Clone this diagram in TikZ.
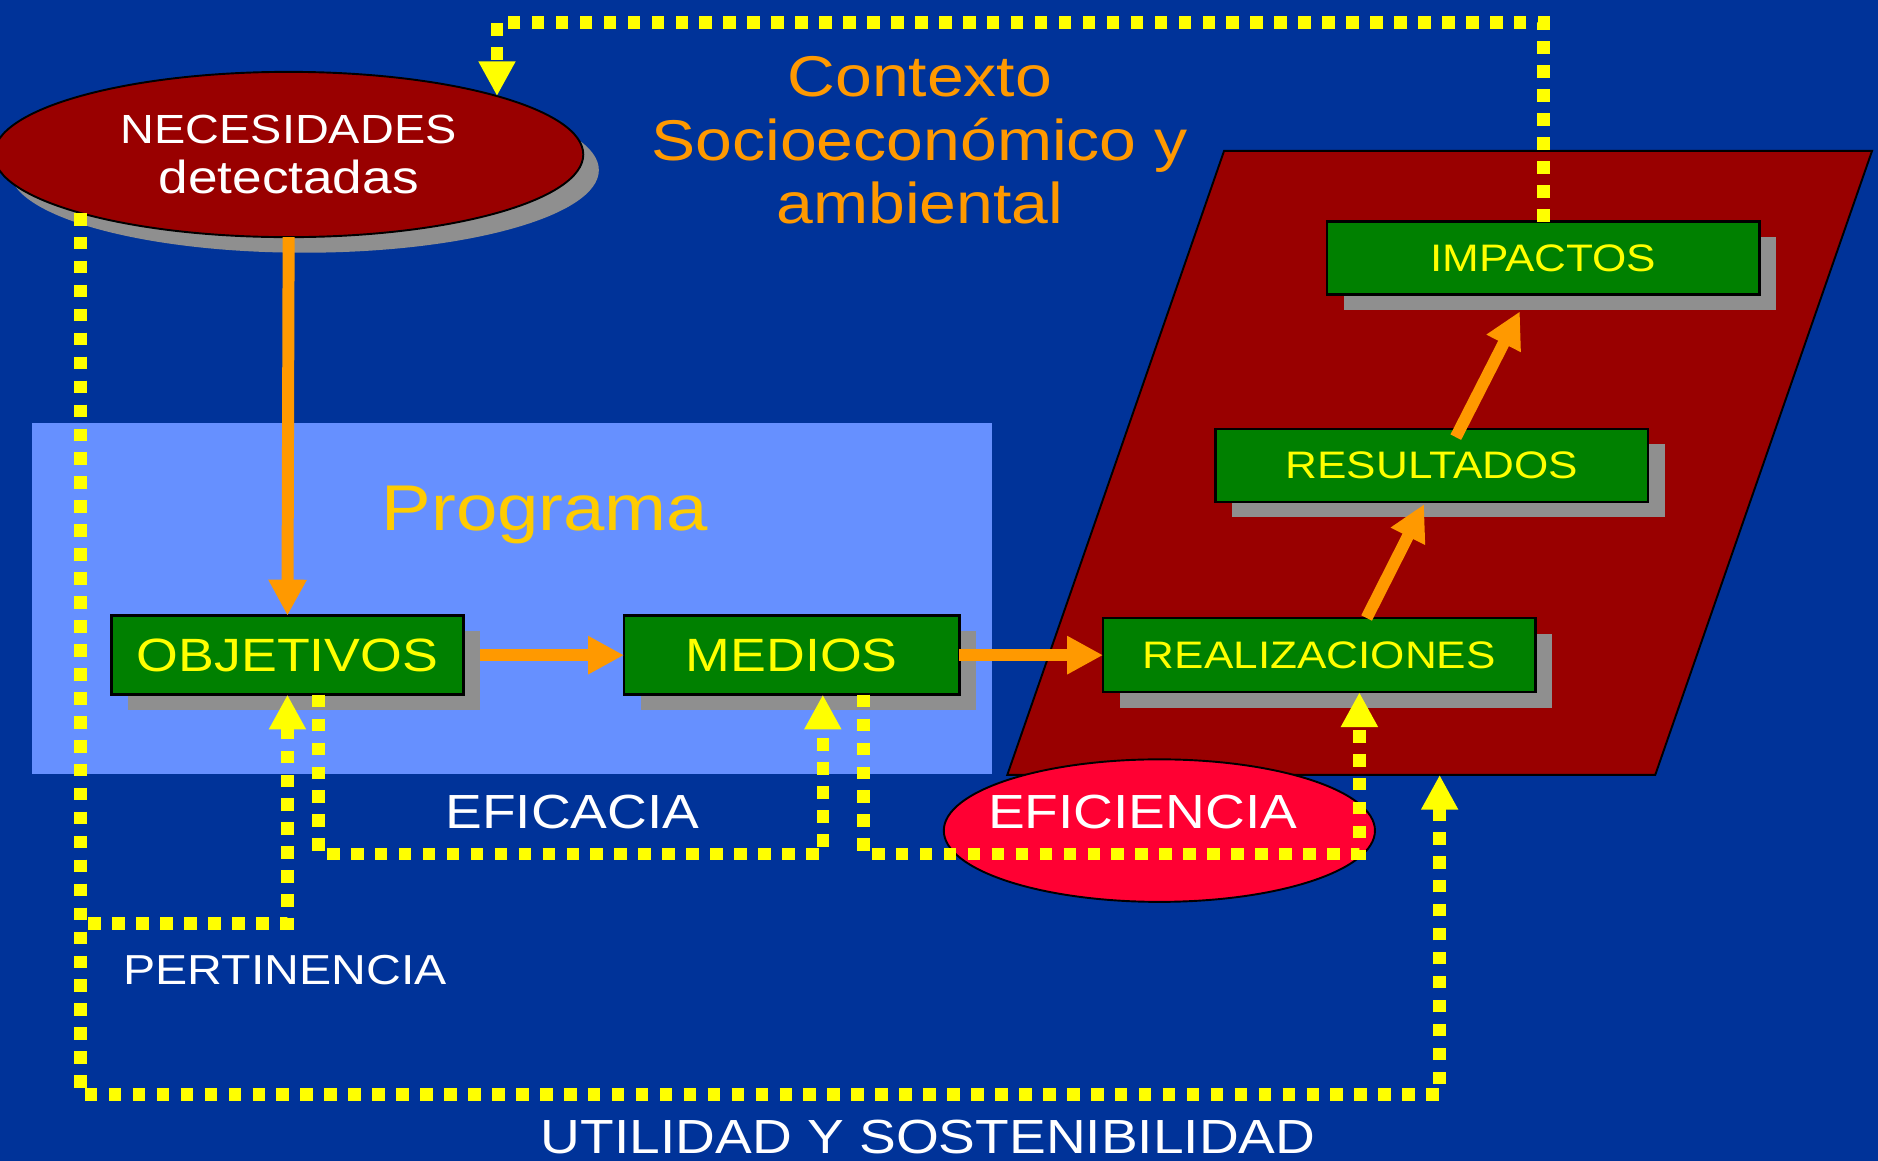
\documentclass[tikz,border=0pt]{standalone}
\usepackage{fontspec}
\setmainfont{Liberation Sans}[FakeStretch=1.15]
\usetikzlibrary{shapes.geometric,arrows.meta,shadows,calc}

\definecolor{bgblue}{HTML}{003399}
\definecolor{progblue}{HTML}{6690FF}
\definecolor{proggold}{HTML}{FFCC00}
\definecolor{darkred}{HTML}{990000}
\definecolor{efired}{HTML}{FF0033}
\definecolor{boxgreen}{HTML}{008000}
\definecolor{shadegray}{HTML}{8F8F8F}
\definecolor{arrorange}{HTML}{FF9900}
\definecolor{yel}{HTML}{FFFF00}

\begin{document}
\begin{tikzpicture}[x=0.5pt,y=-0.5pt,
	box/.style={draw=black,line width=1pt,fill=boxgreen,text=yel,inner sep=0pt,outer sep=0pt,
		drop shadow={shadow xshift=7pt,shadow yshift=-6.5pt,fill=shadegray,opacity=1}},
	bigbox/.style={box,minimum height=33pt,font=\fontsize{19.5}{20}\selectfont},
	smallbox/.style={box,minimum width=180.5pt,minimum height=30.5pt,font=\fontsize{16}{17}\selectfont},
	lbl/.style={anchor=base,text=white,inner sep=0pt,font=\fontsize{20}{22}\selectfont},
	flow/.style={draw=arrorange,line width=5pt,-{Triangle[length=15pt,width=15pt]}},
	dots/.style={draw=yel,line width=5.25pt,dash pattern=on 5.25pt off 4.75pt,-{Triangle[length=14.5pt,width=14.5pt]}}]
		%Shape: Rectangle (background)
		\fill[bgblue] (0,0) rectangle (1568,969);
		\useasboundingbox (0,0) rectangle (1568,969);
		
		%Shape: Rectangle
		\fill[progblue] (27,353) rectangle (828,646);
		% Text Node
		\node (prog) at (455,443) [anchor=base,text=proggold,inner sep=0pt,font=\fontsize{27}{30}\selectfont] {Programa};
		
		%Shape: Parallelogram
		\draw[fill=darkred,line width=0.8pt] (1022,126) -- (1563,126) -- (1382,647) -- (841,647) -- cycle;
		\coordinate (ctx) at (1202,647);
		
		%Shape: Ellipse
		\node (nec) at (241,129) [ellipse,minimum width=246pt,minimum height=69pt,inner sep=0pt,outer sep=0pt,
			draw=black,line width=0.8pt,fill=darkred,text=white,align=center,font=\fontsize{17}{20.5}\selectfont,
			drop shadow={shadow xshift=6.5pt,shadow yshift=-6.5pt,fill=shadegray,opacity=1}]
			{NECESIDADES\\{\fontsize{19.3}{20.5}\selectfont detectadas}};
		
		% Text Node
		\node (ctxt) at (768,47) [anchor=north,align=center,text=arrorange,inner sep=0pt,
			font=\fontsize{24}{26.5}\selectfont] {Contexto\\Socioeconómico y\\ambiental};
		
		%Shape: Rectangle
		\node (obj) at (240,547) [bigbox,minimum width=147pt] {OBJETIVOS};
		%Shape: Rectangle
		\node (med) at (661,547) [bigbox,minimum width=140pt] {MEDIOS};
		%Shape: Rectangle
		\node (rea) at (1101.5,547) [smallbox,minimum height=31pt] {REALIZACIONES};
		%Shape: Rectangle
		\node (res) at (1195.5,388.5) [smallbox] {RESULTADOS};
		%Shape: Rectangle
		\node (imp) at (1288.5,215.5) [smallbox] {IMPACTOS};
		
		%Straight Lines
		\draw[flow] (nec.south) -- (obj.north);
		\draw[flow] ($(obj.east)+(14,0)$) -- (med.west);
		\draw[flow] (med.east) -- (rea.west);
		\draw[flow] ($(rea.north)+(39.5,0)$) -- ($(res.south)+(-6.5,2)$);
		\draw[flow] ($(res.north)+(20,7)$) -- ($(imp.south)+(-19.5,14)$);
		
		%Shape: Ellipse
		\node (effic) at (968,693.5) [ellipse,minimum width=180pt,minimum height=59.5pt,inner sep=0pt,
			draw=black,line width=0.8pt,fill=efired] {};
		% Text Node
		\node (efitxt) at (954,692) [lbl] {EFICIENCIA};
		
		%Dotted Lines
		\coordinate (topy) at (900,19);
		\coordinate (pert) at (150,771);
		\coordinate (util) at (600,914);
		\coordinate (efic) at (480,713);
		\coordinate (effi) at (900,713);
		\draw[dots] (imp.north) |- (topy) -| (nec.north east);
		\draw[dots] (nec.south west) |- (pert) -| (obj.south);
		\draw[dots] (nec.south west) |- (util) -| (ctx);
		\draw[dots] ($(obj.south)+(26,0)$) |- (efic) -| ($(med.south)+(26,0)$);
		\draw[dots] ($(med.south)+(60,0)$) |- (effi) -| ($(rea.south)+(33.5,0)$);
		
		% Text Node
		\node (eficacia) at (478,692) [lbl] {EFICACIA};
		% Text Node
		\node (pertin) at (238,822) [lbl,font=\fontsize{17.5}{20}\selectfont] {PERTINENCIA};
		% Text Node
		\node (utilid) at (775,963) [lbl] {UTILIDAD Y SOSTENIBILIDAD};
		
\end{tikzpicture}
\end{document}
